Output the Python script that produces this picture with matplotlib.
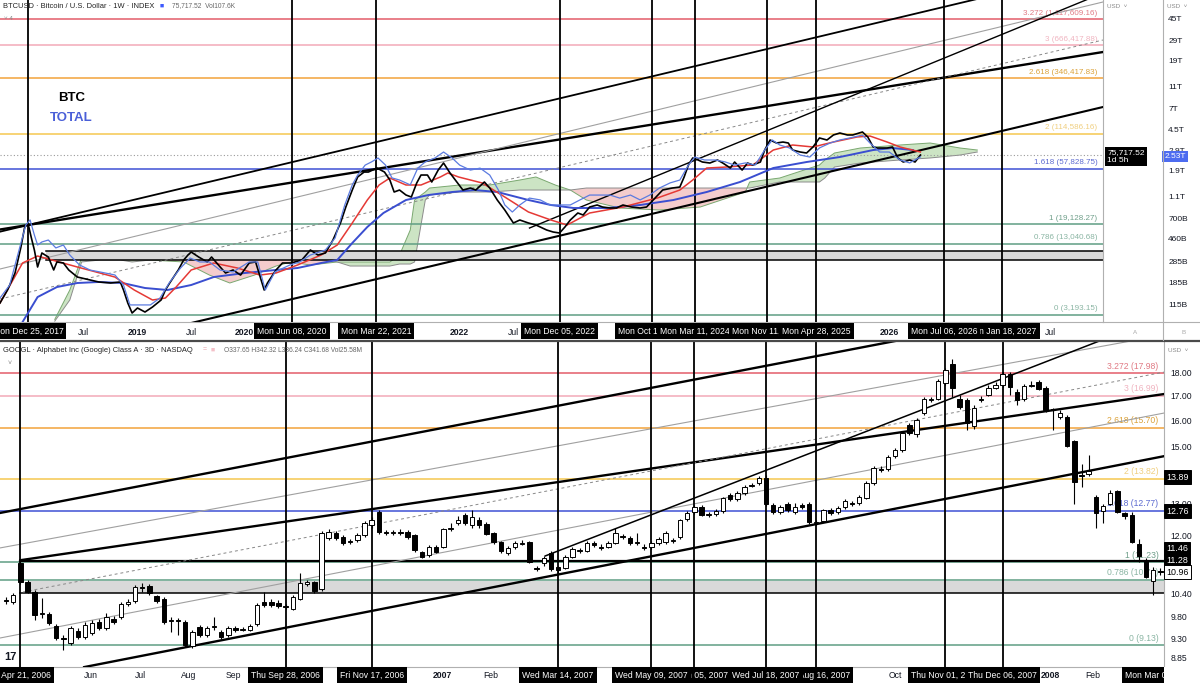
import numpy as np
import matplotlib
matplotlib.use('Agg')
import matplotlib.pyplot as plt
import matplotlib.transforms as mtransforms
from matplotlib.ticker import NullLocator
from matplotlib.patches import Rectangle
from matplotlib.lines import Line2D

plt.rcParams['font.family'] = ['Liberation Sans', 'DejaVu Sans']

W, H = 1200, 683

# ---------------- top panel data (x = decimal year) ----------------
btc_weekly = [
    (2017.72, 4013), (2017.79, 5195), (2017.86, 7280), (2017.915, 12200), (2017.95, 18140),
    (2017.98, 19640), (2018.01, 14870), (2018.04, 11490), (2018.07, 8200), (2018.11, 10830),
    (2018.17, 10000), (2018.22, 7730), (2018.25, 9060), (2018.31, 8880), (2018.36, 7730),
    (2018.44, 6720), (2018.48, 6590), (2018.56, 6335), (2018.64, 6090), (2018.75, 5970),
    (2018.84, 6090), (2018.87, 5195), (2018.91, 4013), (2018.95, 3290), (2019.00, 3634),
    (2019.07, 3356), (2019.14, 3707), (2019.22, 4260), (2019.26, 5195), (2019.30, 5970),
    (2019.38, 7730), (2019.43, 9420), (2019.47, 10400), (2019.50, 11040), (2019.57, 10000),
    (2019.65, 9060), (2019.69, 10000), (2019.77, 8200), (2019.82, 7280), (2019.89, 7730),
    (2019.96, 6990), (2020.04, 8880), (2020.10, 9060), (2020.18, 5195), (2020.21, 5970),
    (2020.29, 7730), (2020.35, 8880), (2020.43, 8880), (2020.53, 9420), (2020.61, 11490),
    (2020.68, 10400), (2020.75, 10830), (2020.82, 14010), (2020.89, 19640), (2020.94, 26980),
    (2021.00, 37800), (2021.05, 48950), (2021.11, 54000), (2021.15, 54000), (2021.23, 58500),
    (2021.30, 54000), (2021.35, 46100), (2021.39, 36340), (2021.44, 37800), (2021.50, 34240),
    (2021.55, 32900), (2021.60, 43450), (2021.64, 50900), (2021.70, 50900), (2021.74, 44320),
    (2021.80, 56200), (2021.85, 64600), (2021.91, 53000), (2021.96, 46100), (2022.03, 37800),
    (2022.10, 39330), (2022.15, 37800), (2022.23, 44320), (2022.28, 39330), (2022.35, 31000),
    (2022.42, 25420), (2022.50, 19640), (2022.56, 20840), (2022.64, 19640), (2022.71, 18880),
    (2022.81, 17090), (2022.87, 16430), (2022.93, 16100), (2022.98, 18140), (2023.03, 20840),
    (2023.10, 23950), (2023.15, 23020), (2023.21, 26980), (2023.28, 28070), (2023.33, 26980),
    (2023.40, 26450), (2023.46, 26450), (2023.52, 28070), (2023.60, 26980), (2023.68, 26450),
    (2023.74, 26980), (2023.82, 32260), (2023.89, 37800), (2023.98, 39330), (2024.05, 40120),
    (2024.09, 48950), (2024.13, 62100), (2024.17, 71400), (2024.22, 68600), (2024.26, 65900),
    (2024.33, 64600), (2024.40, 68600), (2024.45, 64600), (2024.52, 58500), (2024.56, 65900),
    (2024.63, 56200), (2024.68, 64600), (2024.73, 62100), (2024.80, 65900), (2024.84, 83600),
    (2024.89, 102000), (2024.95, 96100), (2025.01, 98000), (2025.06, 96100), (2025.10, 83600),
    (2025.17, 80400), (2025.23, 78800), (2025.29, 88800), (2025.35, 106200), (2025.42, 102000),
    (2025.48, 112700), (2025.54, 117200), (2025.61, 112700), (2025.66, 112700), (2025.75, 119600),
    (2025.80, 108300), (2025.85, 88800), (2025.89, 87000), (2025.98, 87000), (2026.03, 88800),
    (2026.08, 71400), (2026.13, 65900), (2026.19, 68600), (2026.24, 65900), (2026.29, 75717.52),
]

total_mcap = [
    (2017.72, 133e9), (2017.81, 174e9), (2017.91, 402e9), (2017.96, 610e9), (2018.00, 678e9),
    (2018.04, 495e9), (2018.07, 402e9), (2018.11, 428e9), (2018.17, 446e9), (2018.24, 378e9),
    (2018.31, 402e9), (2018.37, 326e9), (2018.46, 265e9), (2018.56, 238e9), (2018.65, 229e9),
    (2018.79, 215e9), (2018.87, 174e9), (2018.93, 115e9), (2019.02, 115e9), (2019.12, 115e9),
    (2019.21, 133e9), (2019.30, 185e9), (2019.40, 248e9), (2019.49, 306e9), (2019.58, 282e9),
    (2019.67, 282e9), (2019.77, 238e9), (2019.89, 229e9), (2020.04, 282e9), (2020.12, 282e9),
    (2020.19, 157e9), (2020.28, 229e9), (2020.42, 265e9), (2020.51, 282e9), (2020.61, 326e9),
    (2020.75, 362e9), (2020.84, 465e9), (2020.93, 927e9), (2021.00, 1.41e12), (2021.05, 1.73e12),
    (2021.12, 2.13e12), (2021.18, 2.28e12), (2021.24, 2.47e12), (2021.31, 2.13e12), (2021.37, 1.63e12),
    (2021.44, 1.56e12), (2021.54, 1.41e12), (2021.61, 2.00e12), (2021.68, 2.28e12), (2021.77, 2.47e12),
    (2021.85, 2.80e12), (2021.93, 2.47e12), (2022.00, 2.13e12), (2022.10, 1.92e12), (2022.19, 2.00e12),
    (2022.28, 1.73e12), (2022.36, 1.27e12), (2022.42, 927e9), (2022.49, 800e9), (2022.56, 927e9),
    (2022.65, 1.07e12), (2022.75, 1.03e12), (2022.84, 927e9), (2022.93, 927e9), (2023.03, 927e9),
    (2023.12, 1.03e12), (2023.21, 1.14e12), (2023.31, 1.14e12), (2023.40, 1.14e12), (2023.49, 1.07e12),
    (2023.59, 1.14e12), (2023.68, 1.03e12), (2023.77, 1.14e12), (2023.86, 1.32e12), (2023.96, 1.47e12),
    (2024.05, 1.56e12), (2024.13, 2.13e12), (2024.19, 2.52e12), (2024.28, 2.37e12), (2024.38, 2.37e12),
    (2024.47, 2.28e12), (2024.56, 2.13e12), (2024.66, 2.23e12), (2024.75, 2.13e12), (2024.84, 2.92e12),
    (2024.91, 3.60e12), (2024.98, 3.24e12), (2025.07, 3.05e12), (2025.17, 2.63e12), (2025.26, 2.52e12),
    (2025.35, 3.05e12), (2025.45, 3.38e12), (2025.54, 3.60e12), (2025.63, 3.75e12), (2025.75, 3.99e12),
    (2025.82, 3.38e12), (2025.91, 2.80e12), (2026.00, 2.80e12), (2026.10, 2.37e12), (2026.19, 2.23e12),
    (2026.29, 2.53e12),
]

btc_ma_red = [
    (2017.72, 4013), (2017.93, 8880), (2018.07, 10200), (2018.44, 8200), (2018.79, 6720),
    (2018.97, 5195), (2019.14, 4260), (2019.26, 4430), (2019.36, 5510), (2019.50, 7730),
    (2019.71, 8880), (2019.93, 8040), (2020.14, 6990), (2020.29, 7280), (2020.49, 8530),
    (2020.71, 10400), (2020.86, 12690), (2021.00, 19640), (2021.14, 31000), (2021.25, 41760),
    (2021.35, 47970), (2021.50, 41760), (2021.64, 41760), (2021.82, 48950), (2021.89, 53000),
    (2021.99, 48950), (2022.21, 43450), (2022.42, 32900), (2022.64, 24440), (2022.85, 20840),
    (2023.00, 18880), (2023.21, 23950), (2023.52, 26980), (2023.84, 32260), (2024.05, 37800),
    (2024.17, 46100), (2024.30, 58500), (2024.49, 59700), (2024.73, 62100), (2024.92, 83600),
    (2025.10, 92360), (2025.29, 88800), (2025.48, 98000), (2025.70, 108300), (2025.82, 110400),
    (2025.98, 98000), (2026.10, 88800), (2026.29, 80400),
]

btc_ma_blue = [
    (2017.93, 2753), (2018.07, 4518), (2018.25, 5510), (2018.44, 5970), (2018.64, 6090),
    (2018.86, 5970), (2019.07, 5405), (2019.28, 5195), (2019.50, 5737), (2019.71, 6720),
    (2020.00, 7280), (2020.29, 7730), (2020.49, 8040), (2020.71, 8880), (2020.86, 9420),
    (2021.00, 13200), (2021.14, 18140), (2021.29, 23950), (2021.50, 31000), (2021.71, 34240),
    (2021.93, 36340), (2022.14, 37800), (2022.35, 36340), (2022.64, 31000), (2022.85, 28070),
    (2023.06, 26450), (2023.37, 26450), (2023.68, 28070), (2023.99, 31000), (2024.30, 36340),
    (2024.61, 44320), (2024.92, 58500), (2025.23, 65900), (2025.54, 72780), (2025.85, 83600),
    (2026.03, 87000), (2026.22, 83600),
]

# ichimoku cloud: (year, span A, span B)
btc_cloud = [
    (2018.23, 2900, 2800), (2018.37, 5195, 4260), (2018.48, 9800, 9060), (2018.65, 10400, 9420),
    (2018.84, 10200, 9420), (2018.95, 9800, 9060), (2019.12, 9420, 9420), (2019.43, 9060, 9800),
    (2019.67, 6990, 9800), (2019.86, 5970, 9800), (2020.09, 6990, 9800), (2020.29, 8360, 9420),
    (2020.43, 9060, 10830), (2020.61, 8530, 10830), (2020.86, 9060, 9060), (2020.98, 9060, 8360),
    (2021.35, 9060, 8360), (2021.44, 10400, 8700), (2021.54, 17090, 8700), (2021.58, 31000, 9060),
    (2021.68, 36340, 31000), (2021.72, 39330, 34240), (2022.00, 41760, 36340), (2022.28, 41760, 36340),
    (2022.56, 46100, 37800), (2022.71, 48950, 37800), (2022.89, 41760, 37800), (2023.03, 37800, 37800),
    (2023.18, 31000, 39330), (2023.49, 26450, 39330), (2023.86, 25420, 39330), (2024.24, 26980, 39330),
    (2024.66, 36340, 39330), (2024.70, 44320, 39330), (2024.98, 47970, 44320), (2025.35, 62100, 44320),
    (2025.40, 68600, 47970), (2025.49, 78800, 59700), (2025.73, 87000, 64600), (2026.10, 92400, 68600),
    (2026.38, 96100, 71400), (2026.66, 87000, 75700), (2026.82, 83600, 80400),
]

fib_levels = ['3.272', '3', '2.618', '2', '1.618', '1', '0.786', '0']
btc_fib = [1117609.16, 666417.88, 346417.83, 114586.16, 57828.75, 19128.27, 13040.68, 3193.15]
googl_fib = [17.98, 16.99, 15.70, 13.82, 12.77, 11.23, 10.74, 9.13]

btc_last = 75717.52
total_last = 2.53e12

# marked dates, in drawing order (later boxes cover earlier ones)
btc_marks = [
    (2017.98, 'Mon Dec 25, 2017'), (2020.44, 'Mon Jun 08, 2020'), (2021.22, 'Mon Mar 22, 2021'),
    (2022.93, 'Mon Dec 05, 2022'), (2023.79, 'Mon Oct 16, 2023'), (2024.19, 'Mon Mar 11, 2024'),
    (2024.86, 'Mon Nov 11, 2024'), (2025.32, 'Mon Apr 28, 2025'), (2027.05, 'Mon Jan 18, 2027'),
    (2026.51, 'Mon Jul 06, 2026'),
]
btc_xticks = [2018.5, 2019.0, 2019.5, 2020.0, 2022.0, 2022.5, 2026.0, 2027.5]
btc_xlabels = ['Jul', '2019', 'Jul', '2020', '2022', 'Jul', '2026', 'Jul']
btc_yticks = [1e6, 6e5, 4e5, 2.5e5, 1.5e5, 1e5, 4e4, 2.5e4, 1.5e4, 1e4, 6500, 4250, 2850]
total_yticks = [45e12, 29e12, 19e12, 11e12, 7e12, 4.5e12, 2.9e12, 1.9e12, 1.1e12,
                700e9, 460e9, 285e9, 185e9, 115e9]
total_ylabels = ['45T', '29T', '19T', '11T', '7T', '4.5T', '2.9T', '1.9T', '1.1T',
                 '700B', '460B', '285B', '185B', '115B']

btc_zone = (9420, 11330, 2018.15)

# trend lines: (x0, p0, x1, p1)
btc_trend = [
    (2017.72, 17260, 2027.99, 585000),
    (2017.72, 16530, 2027.99, 3039000),
    (2017.72, 7880, 2027.99, 1579000),
    (2017.72, 4345, 2027.99, 742500),
    (2019.50, 2698, 2027.99, 196400),
    (2022.65, 17780, 2027.99, 1887000),
]
btc_trend_style = [('black', 1.7, '-'), ('black', 1.3, '-'), ('#a0a0a0', 0.8, '-'),
                   ('#888888', 0.7, (0, (3, 3))), ('black', 1.5, '-'), ('black', 1.0, '-')]

# ---------------- bottom panel data (x = bar index, 3D bars) ----------------
googl_ohlc = [
    (10.22, 10.30, 10.12, 10.20), (10.17, 10.40, 10.12, 10.35), (11.21, 11.28, 10.64, 10.69),
    (10.69, 10.75, 10.40, 10.43), (10.43, 10.48, 9.73, 9.85), (9.87, 10.27, 9.77, 9.90),
    (9.87, 9.92, 9.61, 9.65), (9.58, 9.63, 9.25, 9.30), (9.30, 9.37, 9.02, 9.28),
    (9.18, 9.58, 9.14, 9.53), (9.46, 9.53, 9.28, 9.32), (9.32, 9.68, 9.28, 9.61),
    (9.42, 9.73, 9.37, 9.65), (9.68, 9.75, 9.49, 9.53), (9.53, 9.90, 9.49, 9.80),
    (9.75, 9.82, 9.63, 9.68), (9.80, 10.17, 9.75, 10.12), (10.12, 10.25, 10.07, 10.17),
    (10.20, 10.62, 10.15, 10.56), (10.56, 10.67, 10.43, 10.53), (10.59, 10.64, 10.35, 10.40),
    (10.33, 10.35, 10.15, 10.20), (10.25, 10.30, 9.63, 9.68), (9.70, 9.80, 9.44, 9.73),
    (9.73, 9.77, 9.37, 9.70), (9.68, 9.73, 9.10, 9.14), (9.12, 9.49, 9.08, 9.44),
    (9.56, 9.61, 9.32, 9.37), (9.37, 9.58, 9.32, 9.53), (9.56, 9.80, 9.49, 9.58),
    (9.44, 9.49, 9.28, 9.32), (9.37, 9.58, 9.32, 9.53), (9.53, 9.58, 9.44, 9.49),
    (9.49, 9.56, 9.46, 9.51), (9.49, 9.63, 9.46, 9.58), (9.63, 10.15, 9.58, 10.10),
    (10.17, 10.43, 10.05, 10.10), (10.17, 10.25, 10.05, 10.10), (10.15, 10.22, 10.02, 10.07),
    (10.07, 10.12, 10.00, 10.05), (10.00, 10.35, 9.97, 10.30), (10.25, 10.93, 10.22, 10.67),
    (10.64, 10.75, 10.59, 10.69), (10.69, 10.72, 10.40, 10.45), (10.51, 12.14, 10.45, 12.08),
    (11.93, 12.20, 11.87, 12.11), (12.08, 12.14, 11.87, 11.93), (11.96, 12.02, 11.72, 11.78),
    (11.81, 11.90, 11.75, 11.84), (11.87, 12.08, 11.81, 12.02), (12.02, 12.45, 11.96, 12.39),
    (12.32, 12.57, 12.23, 12.48), (12.73, 12.79, 12.05, 12.11), (12.11, 12.17, 12.02, 12.08),
    (12.08, 12.17, 12.02, 12.11), (12.11, 12.20, 12.02, 12.08), (12.11, 12.17, 11.90, 11.96),
    (12.02, 12.05, 11.52, 11.58), (11.52, 11.55, 11.35, 11.38), (11.44, 11.72, 11.38, 11.67),
    (11.67, 11.72, 11.49, 11.52), (11.67, 12.23, 11.64, 12.20), (12.20, 12.39, 12.14, 12.23),
    (12.39, 12.60, 12.32, 12.48), (12.64, 12.70, 12.32, 12.39), (12.32, 12.79, 12.23, 12.57),
    (12.48, 12.57, 12.23, 12.32), (12.36, 12.42, 12.02, 12.05), (12.08, 12.11, 11.75, 11.81),
    (11.81, 11.84, 11.49, 11.55), (11.49, 11.70, 11.44, 11.64), (11.67, 11.84, 11.61, 11.78),
    (11.75, 11.87, 11.72, 11.78), (11.81, 11.84, 11.21, 11.24), (11.07, 11.13, 10.99, 11.04),
    (11.21, 11.41, 11.13, 11.35), (11.49, 11.55, 10.99, 11.04), (11.10, 11.13, 10.93, 11.02),
    (11.07, 11.44, 11.04, 11.38), (11.38, 11.67, 11.35, 11.61), (11.55, 11.64, 11.49, 11.58),
    (11.55, 11.84, 11.52, 11.78), (11.78, 11.84, 11.67, 11.72), (11.67, 11.75, 11.58, 11.64),
    (11.67, 11.84, 11.64, 11.78), (11.78, 12.23, 11.75, 12.08), (11.99, 12.05, 11.90, 11.96),
    (11.93, 11.99, 11.72, 11.78), (11.78, 12.08, 11.72, 11.81), (11.67, 11.75, 11.58, 11.64),
    (11.67, 11.84, 11.61, 11.78), (11.78, 11.96, 11.72, 11.90), (11.81, 12.14, 11.75, 12.08),
    (11.84, 11.93, 11.78, 11.87), (11.96, 12.51, 11.90, 12.48), (12.51, 12.76, 12.45, 12.70),
    (12.73, 12.95, 12.67, 12.89), (12.89, 12.95, 12.60, 12.64), (12.64, 12.73, 12.57, 12.67),
    (12.67, 12.83, 12.60, 12.76), (12.76, 13.22, 12.70, 13.18), (13.28, 13.35, 13.08, 13.15),
    (13.15, 13.41, 13.08, 13.35), (13.35, 13.62, 13.28, 13.55), (13.58, 13.68, 13.55, 13.62),
    (13.68, 13.93, 13.62, 13.86), (13.86, 13.96, 12.92, 12.99), (12.95, 13.02, 12.67, 12.73),
    (12.73, 12.95, 12.67, 12.89), (12.99, 13.05, 12.73, 12.79), (12.73, 13.02, 12.67, 12.89),
    (12.95, 13.02, 12.83, 12.89), (12.99, 13.05, 12.36, 12.42), (12.39, 12.48, 12.32, 12.42),
    (12.45, 12.83, 12.42, 12.79), (12.79, 12.86, 12.64, 12.70), (12.73, 12.92, 12.67, 12.86),
    (12.89, 13.15, 12.83, 13.08), (13.02, 13.08, 12.92, 12.99), (13.02, 13.28, 12.95, 13.22),
    (13.18, 13.75, 13.15, 13.68), (13.68, 14.26, 13.62, 14.21), (14.17, 14.26, 14.07, 14.14),
    (14.17, 14.67, 14.10, 14.60), (14.64, 14.93, 14.57, 14.86), (14.86, 15.58, 14.80, 15.50),
    (15.81, 15.89, 15.42, 15.50), (15.46, 16.09, 15.35, 16.01), (16.29, 16.95, 16.21, 16.87),
    (16.83, 16.95, 16.75, 16.87), (16.87, 17.73, 16.83, 17.64), (17.56, 18.22, 17.47, 18.13),
    (18.41, 18.65, 16.95, 17.34), (16.87, 17.04, 16.45, 16.54), (16.83, 16.91, 15.62, 15.89),
    (15.77, 16.62, 15.66, 16.50), (16.83, 16.99, 16.75, 16.87), (17.04, 17.47, 16.99, 17.34),
    (17.34, 17.60, 17.30, 17.47), (17.47, 18.05, 17.38, 17.96), (17.96, 18.05, 17.04, 17.38),
    (17.17, 17.30, 16.62, 16.83), (16.87, 17.51, 16.79, 17.43), (17.43, 17.64, 17.38, 17.47),
    (17.60, 17.69, 17.25, 17.30), (17.34, 17.43, 16.33, 16.41), (16.45, 16.50, 15.62, 16.41),
    (16.13, 16.41, 16.05, 16.29), (16.13, 16.21, 14.97, 15.01), (15.19, 15.23, 12.99, 13.72),
    (13.96, 14.35, 13.55, 13.93), (13.99, 14.67, 13.93, 14.10), (13.22, 13.28, 12.23, 12.70),
    (12.76, 12.99, 12.39, 12.92), (12.99, 13.45, 12.95, 13.35), (13.41, 13.45, 12.70, 12.73),
    (12.70, 12.73, 12.51, 12.60), (12.64, 12.73, 11.78, 11.81), (11.75, 11.90, 11.24, 11.41),
    (11.26, 11.35, 10.80, 10.83), (10.72, 11.10, 10.35, 11.02), (10.99, 11.07, 10.88, 10.96),
]

googl_marks = [
    (2, 'Fri Apr 21, 2006'), (39, 'Thu Sep 28, 2006'), (51, 'Fri Nov 17, 2006'),
    (77, 'Wed Mar 14, 2007'), (96, 'Tue Jun 05, 2007'), (90, 'Wed May 09, 2007'),
    (113, 'Thu Aug 16, 2007'), (106, 'Wed Jul 18, 2007'), (131, 'Thu Nov 01, 2007'),
    (139, 'Thu Dec 06, 2007'), (161, 'Mon Mar 03, 2008'),
]
googl_xticks = [11.9, 18.7, 25.5, 31.7, 60.9, 67.6, 124.0, 145.6, 151.6]
googl_xlabels = ['Jun', 'Jul', 'Aug', 'Sep', '2007', 'Feb', 'Oct', '2008', 'Feb']
googl_yticks = [18, 17, 16, 15, 13, 12, 10.4, 9.8, 9.3, 8.85]
googl_zone = (10.40, 10.72, 11.28, 2)
googl_price_tags = [(13.89, 'black'), (12.76, 'black'), (11.46, 'black'), (11.28, 'black'), (10.96, 'white')]

googl_trend = [
    (2, 11.29, 161.5, 17.08),
    (-0.84, 12.70, 161.5, 22.17),
    (10.9, 8.65, 161.5, 14.63),
    (-0.84, 9.30, 161.5, 16.29),
    (-0.84, 11.64, 161.5, 19.79),
    (2.37, 10.43, 161.5, 18.04),
    (75.2, 11.41, 161.5, 20.75),
]
googl_trend_style = [('black', 1.7, '-'), ('black', 1.7, '-'), ('black', 1.7, '-'),
                     ('#a0a0a0', 0.8, '-'), ('#a0a0a0', 0.8, '-'),
                     ('#888888', 0.7, (0, (3, 3))), ('black', 1.1, '-')]

fib_line_colors = ['#e35d6a', '#f2a9b8', '#f2a33a', '#f5c850', '#3f51d4', '#5f9e84', '#5f9e84', '#5f9e84']
fib_text_colors = ['#e07a84', '#f0b4c0', '#dba23a', '#f0cf80', '#5c6ad0', '#6f9f8a', '#8ab5a3', '#8ab5a3']


def fx(px):
    return px / W


def fy(py):
    return 1 - py / H


fig = plt.figure(figsize=(12, 6.83), dpi=100)

# ======================= TOP PANEL =======================
ax1 = fig.add_axes([0, fy(322), fx(1103), 322 / H])
ax1.set_yscale('log')
ax1.set_xlim(2017.72, 2027.99)
ax1.set_ylim(2752.6, 1642600)

bt, bp = zip(*btc_weekly)
tt, tv = zip(*total_mcap)
rt, rp = zip(*btc_ma_red)
mt, mp = zip(*btc_ma_blue)
ct, ca, cb = (np.array(v) for v in zip(*btc_cloud))

ax1.fill_between(ct, ca, cb, where=ca >= cb, interpolate=True, color='#bcdcb0', alpha=0.75, lw=0, zorder=1)
ax1.fill_between(ct, ca, cb, where=ca < cb, interpolate=True, color='#f1bcbc', alpha=0.75, lw=0, zorder=1)
ax1.plot(ct, ca, color='#7aa870', lw=0.7, zorder=1.5)
ax1.plot(ct, cb, color='#8c8c8c', lw=0.7, zorder=1.5)

for i, v in enumerate(btc_fib):
    ax1.axhline(v, color=fib_line_colors[i], lw=1.1, zorder=2)
    ax1.annotate(f'{fib_levels[i]} ({v:,.2f})', xy=(1, v), xycoords=ax1.get_yaxis_transform(),
                 xytext=(-4, 2), textcoords='offset points', ha='right', va='bottom',
                 fontsize=5.8, color=fib_text_colors[i], zorder=2)

lo, hi, z0 = btc_zone
ax1.fill_between([z0, 2027.99], lo, hi, color='#d9d9d9', lw=0, zorder=1.8)
ax1.plot([z0, 2027.99], [hi, hi], color='black', lw=1.1, zorder=2.2)
ax1.plot([z0, 2027.99], [lo, lo], color='black', lw=1.1, zorder=2.2)
ax1.axhline(btc_last, color='#9a9a9a', lw=0.8, ls=(0, (1, 2)), zorder=2)

for (x0, p0, x1, p1), (c, lw, ls) in zip(btc_trend, btc_trend_style):
    ax1.plot([x0, x1], [p0, p1], color=c, lw=lw, ls=ls, zorder=3)

for t, _ in btc_marks:
    ax1.axvline(t, color='black', lw=1.3, zorder=3)

ax1.plot(mt, mp, color='#3a4ed0', lw=1.4, zorder=4)
ax1.plot(rt, rp, color='#e53935', lw=1.1, zorder=4)
ax1.plot(bt, bp, color='black', lw=1.2, zorder=6)

ax1.yaxis.tick_right()
ax1.set_yticks(btc_yticks)
ax1.set_yticklabels([f'{v:,.2f}' for v in btc_yticks])
ax1.yaxis.set_minor_locator(NullLocator())
ax1.tick_params(axis='y', length=0, pad=4, labelsize=6, labelcolor='#131722')
ax1.set_xticks(btc_xticks)
ax1.set_xticklabels(btc_xlabels)
ax1.tick_params(axis='x', length=0, pad=4, labelsize=6.2, labelcolor='#131722')
for lab in ax1.get_xticklabels():
    if lab.get_text().isdigit():
        lab.set_fontweight('bold')
for s in ['top', 'left']:
    ax1.spines[s].set_visible(False)
for s in ['bottom', 'right']:
    ax1.spines[s].set_color('#b0b0b0')
    ax1.spines[s].set_linewidth(0.8)

ax1b = ax1.twinx()
ax1b.set_yscale('log')
ax1b.set_ylim(8.053e10, 6.689e13)
ax1b.plot(tt, tv, color='#5b7be0', lw=0.9, zorder=5)
ax1b.set_yticks(total_yticks)
ax1b.set_yticklabels(total_ylabels)
ax1b.yaxis.set_minor_locator(NullLocator())
ax1b.tick_params(axis='y', length=0, pad=47, labelsize=6, labelcolor='#131722')
for s in ax1b.spines.values():
    s.set_visible(False)

ax1.annotate(f'{btc_last:,.2f}\n1d 5h', xy=(1, btc_last), xycoords=ax1.get_yaxis_transform(),
             xytext=(3, 4), textcoords='offset points', ha='left', va='top', fontsize=6,
             color='white', linespacing=1.1, annotation_clip=False, zorder=10,
             bbox=dict(boxstyle='square,pad=0.25', fc='black', ec='none'))
ax1b.annotate(f'{total_last / 1e12:.2f}T', xy=(1, total_last), xycoords=ax1b.get_yaxis_transform(),
              xytext=(44, 0), textcoords='offset points', ha='left', va='center', fontsize=6,
              color='white', annotation_clip=False, zorder=10,
              bbox=dict(boxstyle='square,pad=0.25', fc='#4d6cf0', ec='none'))

tr1 = mtransforms.blended_transform_factory(ax1.transData, fig.transFigure)
for i, (t, lab) in enumerate(btc_marks):
    ax1.text(t, fy(331), lab, transform=tr1, ha='center', va='center', fontsize=6.2, color='white',
             clip_on=False, zorder=20 + i, bbox=dict(boxstyle='square,pad=0.35', fc='black', ec='none'))

# ======================= BOTTOM PANEL =======================
ax2 = fig.add_axes([0, fy(667), fx(1164), 325 / H])
ax2.set_yscale('log')
ax2.set_xlim(-0.84, 161.5)
ax2.set_ylim(8.652, 19.445)

for i, v in enumerate(googl_fib):
    ax2.axhline(v, color=fib_line_colors[i], lw=1.1, zorder=2)
    ax2.annotate(f'{fib_levels[i]} ({v:.2f})', xy=(1, v), xycoords=ax2.get_yaxis_transform(),
                 xytext=(-4, 2), textcoords='offset points', ha='right', va='bottom',
                 fontsize=6.2, color=fib_text_colors[i], zorder=2)

glo, ghi, gline, gx0 = googl_zone
ax2.fill_between([gx0 + 1, 161.5], glo, ghi, color='#d9d9d9', lw=0, zorder=1.8)
ax2.plot([gx0, 161.5], [glo, glo], color='black', lw=1.1, zorder=2.2)
ax2.plot([gx0, 161.5], [gline, gline], color='black', lw=1.6, zorder=2.2)

for (x0, p0, x1, p1), (c, lw, ls) in zip(googl_trend, googl_trend_style):
    ax2.plot([x0, x1], [p0, p1], color=c, lw=lw, ls=ls, zorder=3)

for t, _ in googl_marks[:-1]:
    ax2.axvline(t, color='black', lw=1.3, zorder=3)

o, h, l, c = (np.array(v) for v in zip(*googl_ohlc))
idx = np.arange(len(o))
up = c >= o
ax2.vlines(idx, l, h, color='black', lw=0.8, zorder=4)
ax2.bar(idx, np.abs(c - o), bottom=np.minimum(o, c), width=0.62,
        color=np.where(up, 'white', 'black'), edgecolor='black', linewidth=0.7, zorder=5)

ax2.yaxis.tick_right()
ax2.set_yticks(googl_yticks)
ax2.set_yticklabels([f'{v:.2f}' for v in googl_yticks])
ax2.yaxis.set_minor_locator(NullLocator())
ax2.tick_params(axis='y', length=0, pad=4.5, labelsize=6.2, labelcolor='#131722')
ax2.set_xticks(googl_xticks)
ax2.set_xticklabels(googl_xlabels)
ax2.tick_params(axis='x', length=0, pad=3, labelsize=6.2, labelcolor='#131722')
for lab in ax2.get_xticklabels():
    if lab.get_text().isdigit():
        lab.set_fontweight('bold')
for s in ['top', 'left']:
    ax2.spines[s].set_visible(False)
for s in ['bottom', 'right']:
    ax2.spines[s].set_color('#b0b0b0')
    ax2.spines[s].set_linewidth(0.8)

offs = [0, 0, 4, 0, 0]
for (v, kind), dy in zip(googl_price_tags, offs):
    white = kind == 'white'
    ax2.annotate(f'{v:.2f}', xy=(1, v), xycoords=ax2.get_yaxis_transform(),
                 xytext=(1.5, dy), textcoords='offset points', ha='left', va='center', fontsize=6.4,
                 color='black' if white else 'white', annotation_clip=False, zorder=10,
                 bbox=dict(boxstyle='square,pad=0.25', fc='white' if white else 'black', ec='black', lw=0.7))

tr2 = mtransforms.blended_transform_factory(ax2.transData, fig.transFigure)
for i, (t, lab) in enumerate(googl_marks):
    ax2.text(t, fy(675), lab, transform=tr2, ha='center', va='center', fontsize=6.2, color='white',
             clip_on=False, zorder=20 + i, bbox=dict(boxstyle='square,pad=0.35', fc='black', ec='none'))

# ======================= frame, headers =======================
fig.patches.append(Rectangle((fx(1164), 0), 1 - fx(1164), 16 / H, transform=fig.transFigure,
                             fc='white', ec='none', zorder=50))
fig.lines.append(Line2D([0, 1], [fy(340.5), fy(340.5)], transform=fig.transFigure, color='#4a4a4a', lw=1.6, zorder=60))
fig.lines.append(Line2D([fx(1103), 1], [fy(322), fy(322)], transform=fig.transFigure, color='#b0b0b0', lw=0.8, zorder=60))
fig.lines.append(Line2D([fx(1163), fx(1163)], [fy(340), 1], transform=fig.transFigure, color='#b0b0b0', lw=0.8, zorder=60))

fig.text(fx(3), fy(6), 'BTCUSD · Bitcoin / U.S. Dollar · 1W · INDEX', fontsize=5.4, color='#222222', va='center', zorder=70)
fig.text(fx(160), fy(6), '■', fontsize=5, color='#3d5afe', va='center', zorder=70)
fig.text(fx(172), fy(6), '75,717.52  Vol107.6K', fontsize=4.8, color='#666666', va='center', zorder=70)
fig.text(fx(4), fy(19), '˅ 4', fontsize=4.5, color='#888888', va='center', zorder=70)
fig.text(fx(58), fy(98), 'BTC', fontsize=9.5, fontweight='bold', color='black', va='center', zorder=70)
fig.text(fx(50), fy(118), 'TOTAL', fontsize=9.5, fontweight='bold', color='#4a5fd8', va='center', zorder=70)
fig.text(fx(1107), fy(6), 'USD  ˅', fontsize=4.5, color='#888888', va='center', zorder=70)
fig.text(fx(1167), fy(6), 'USD  ˅', fontsize=4.5, color='#888888', va='center', zorder=70)
fig.text(fx(1133), fy(332), 'A', fontsize=4.5, color='#aaaaaa', va='center', zorder=70)
fig.text(fx(1182), fy(332), 'B', fontsize=4.5, color='#aaaaaa', va='center', zorder=70)

fig.text(fx(3), fy(350), 'GOOGL · Alphabet Inc (Google) Class A · 3D · NASDAQ', fontsize=5.4, color='#222222', va='center', zorder=70)
fig.text(fx(203), fy(350), '=', fontsize=5, color='#e8a0a8', va='center', zorder=70)
fig.text(fx(211), fy(350), '■', fontsize=5, color='#f4c0c8', va='center', zorder=70)
fig.text(fx(224), fy(350), 'O337.65 H342.32 L336.24 C341.68 Vol25.58M', fontsize=4.8, color='#666666', va='center', zorder=70)
fig.text(fx(8), fy(364), '˅', fontsize=5, color='#888888', va='center', zorder=70)
fig.text(fx(1168), fy(350), 'USD  ˅', fontsize=4.5, color='#888888', va='center', zorder=70)
fig.text(fx(4), fy(657), '17', fontsize=8, fontweight='bold', color='#131722', va='center', zorder=70)

fig.savefig('out.png', dpi=100, facecolor='white')
